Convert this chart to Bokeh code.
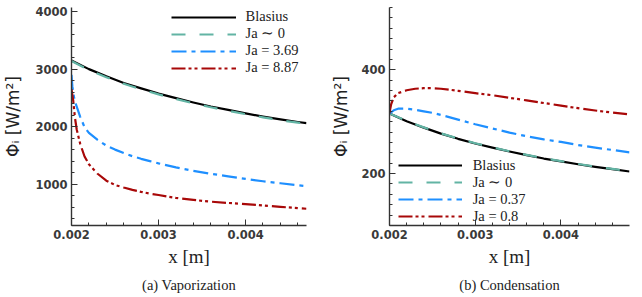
import math
from bokeh.plotting import figure
from bokeh.layouts import row
from bokeh.models import (Range1d, FixedTicker, PrintfTickFormatter, Legend, LegendItem,
                          Title)
from bokeh.embed import file_html
from bokeh.resources import INLINE

# ---------------- data ----------------
# (a) Vaporization
vap_x_blasius = [0.0020, 0.0022, 0.0024, 0.0026, 0.0028, 0.0030, 0.0032, 0.0034,
                 0.0036, 0.0038, 0.0040, 0.0042, 0.0044, 0.0046, 0.0047]
vap_blasius = [3150, 3000, 2875, 2760, 2665, 2575, 2495, 2420, 2350, 2290, 2230, 2175,
               2125, 2080, 2060]
vap_ja0 = [3140, 2985, 2860, 2745, 2650, 2560, 2480, 2405, 2337, 2275, 2217, 2162,
           2112, 2068, 2048]
vap_x_ja1 = [0.0020, 0.00201, 0.00203, 0.00205, 0.0021, 0.00215, 0.0022, 0.0023, 0.0024,
             0.0025, 0.0026, 0.0027, 0.0028, 0.0029, 0.0030, 0.0032, 0.0034, 0.0036,
             0.0038, 0.0040, 0.0042, 0.0044, 0.0046, 0.0047]
vap_ja1 = [2900, 2700, 2500, 2390, 2170, 1990, 1890, 1770, 1670, 1600, 1540, 1485, 1440,
           1400, 1360, 1290, 1230, 1180, 1135, 1090, 1050, 1015, 980, 965]
vap_x_ja2 = [0.0020, 0.00202, 0.00204, 0.00206, 0.0021, 0.00215, 0.0022, 0.0023, 0.0024,
             0.0025, 0.0026, 0.0027, 0.0028, 0.0029, 0.0030, 0.0032, 0.0034, 0.0036,
             0.0038, 0.0040, 0.0042, 0.0044, 0.0046, 0.0047]
vap_ja2 = [2650, 2450, 2150, 1950, 1700, 1480, 1345, 1180, 1060, 985, 940, 900, 865, 835,
           810, 760, 725, 695, 672, 652, 628, 604, 583, 571]
vap_labels = ["Blasius", "Ja \u223c 0", "Ja = 3.69", "Ja = 8.87"]

# (b) Condensation
cond_x = [0.0020, 0.0022, 0.0024, 0.0026, 0.0028, 0.0030, 0.0032, 0.0034, 0.0036,
          0.0038, 0.0040, 0.0042, 0.0044, 0.0046, 0.0048]
cond_blasius = [316, 301, 288.5, 277, 267, 258, 250, 242.5, 235.5, 229, 223.5, 218, 213,
                208.5, 204]
cond_ja0 = [316, 301.5, 289, 277.5, 267.5, 258.5, 250.5, 243, 236, 229.5, 224, 218.5,
            213.5, 209, 205]
cond_x_ja1 = [0.0020, 0.00205, 0.0021, 0.0022, 0.0023, 0.0024, 0.0025, 0.0026, 0.0028,
              0.0030, 0.0032, 0.0034, 0.0036, 0.0038, 0.0040, 0.0042, 0.0044, 0.0046,
              0.0048]
cond_ja1 = [316, 322, 325, 325, 323, 320, 317, 313, 304, 295, 287, 279, 272, 266, 261,
            255, 250, 245.5, 241]
cond_x_ja2 = [0.0020, 0.00201, 0.00202, 0.00205, 0.0021, 0.0022, 0.0023, 0.0024, 0.0025,
              0.0026, 0.0027, 0.0028, 0.0030, 0.0032, 0.0034, 0.0036, 0.0038, 0.0040,
              0.0042, 0.0044, 0.0046, 0.0048]
cond_ja2 = [316, 326, 334, 347, 355, 360.5, 363.5, 364.5, 364.5, 363.5, 361.5, 359.5, 355,
            351, 346, 341, 336, 331, 326, 321.5, 317.5, 314]
cond_labels = ["Blasius", "Ja \u223c 0", "Ja = 0.37", "Ja = 0.8"]

x_major = [0.002, 0.003, 0.004]
x_minor = [0.002 + 0.0002 * i for i in range(15)]
vap_y_major = [1000, 2000, 3000, 4000]
vap_y_minor = [200 * i for i in range(21)]
cond_y_major = [200, 400]
cond_y_minor = [20 * i for i in range(27)]
y_title = "\u03a6\u1d62 [W/m\u00b2]"
x_title = "x [m]"

# ---------------- styles ----------------
COL_BL = "#000000"
COL_J0 = "#62b4a4"
COL_J1 = "#1e8fff"
COL_J2 = "#a80808"
DASH_J0 = "14 14"
DASH_J1 = "15 5 4 5"
DASH_J2 = "14 3 3 3 3 4"
SERIF = "Liberation Serif"
TICKFONT = "DejaVu Sans"


def make_fig(xr, yr, ymaj, ymin, bl, br, bt, bb, ystand):
    p = figure(width=321, height=297, x_range=Range1d(*xr), y_range=Range1d(*yr),
               output_backend="svg", toolbar_location=None, title=None,
               min_border_left=bl, min_border_right=br, min_border_top=bt,
               min_border_bottom=bb)
    p.outline_line_color = None
    p.xgrid.visible = False
    p.ygrid.visible = False
    p.background_fill_color = "white"
    p.border_fill_color = "white"
    p.xaxis.ticker = FixedTicker(ticks=x_major, minor_ticks=x_minor)
    p.yaxis.ticker = FixedTicker(ticks=ymaj, minor_ticks=ymin)
    p.xaxis.formatter = PrintfTickFormatter(format="%.3f")
    p.yaxis.formatter = PrintfTickFormatter(format="%d")
    for ax in (p.xaxis, p.yaxis):
        ax.axis_line_color = "#333333"
        ax.axis_line_width = 1.4
        ax.major_tick_line_color = "#333333"
        ax.minor_tick_line_color = "#333333"
        ax.major_tick_in = 6
        ax.major_tick_out = 0
        ax.minor_tick_in = 3
        ax.minor_tick_out = 0
        ax.major_label_text_font = TICKFONT
        ax.major_label_text_font_style = "bold"
        ax.major_label_text_font_size = "11.5px"
        ax.major_label_text_color = "#3a3a3a"
    p.xaxis.major_label_standoff = 4
    p.yaxis.major_label_standoff = 4
    p.xaxis.axis_label = x_title
    p.xaxis.axis_label_text_font = SERIF
    p.xaxis.axis_label_text_font_style = "normal"
    p.xaxis.axis_label_text_font_size = "19px"
    p.xaxis.axis_label_text_color = "#222222"
    p.xaxis.axis_label_standoff = 4
    p.yaxis.axis_label = y_title
    p.yaxis.axis_label_text_font = "DejaVu Sans"
    p.yaxis.axis_label_text_font_style = "normal"
    p.yaxis.axis_label_text_font_size = "17px"
    p.yaxis.axis_label_text_color = "#222222"
    p.yaxis.axis_label_standoff = ystand
    return p


def add_lines(p, series, labels):
    styles = [(COL_BL, "solid", 2.2), (COL_J0, DASH_J0, 2.2),
              (COL_J1, DASH_J1, 2.2), (COL_J2, DASH_J2, 2.2)]
    items = []
    for (xs, ys), (c, d, w), lab in zip(series, styles, labels):
        r = p.line(xs, ys, line_color=c, line_dash=d, line_width=w, line_join="round")
        items.append(LegendItem(label=lab, renderers=[r]))
    return items


def add_legend(p, items, loc, gw, standoff):
    leg = Legend(items=items, location=loc, orientation="vertical",
                 glyph_width=gw, glyph_height=16, label_height=16,
                 label_standoff=standoff, spacing=0, padding=0, margin=0,
                 background_fill_alpha=0, border_line_alpha=0,
                 label_text_font=SERIF, label_text_font_size="14.5px",
                 label_text_color="#222222")
    p.add_layout(leg)


# ---------------- (a) Vaporization ----------------
p1 = make_fig((0.002, 0.0047), (280, 4072), vap_y_major, vap_y_minor, 63, 15, 4, 68, 9)
items1 = add_lines(p1, [(vap_x_blasius, vap_blasius), (vap_x_blasius, vap_ja0),
                        (vap_x_ja1, vap_ja1), (vap_x_ja2, vap_ja2)], vap_labels)
add_legend(p1, items1, (99.5, 149), 65, 10)
p1.add_layout(Title(text="(a) Vaporization", align="center", text_font=SERIF,
                    text_font_size="14.5px", text_font_style="normal",
                    text_color="#222222"), "below")

# ---------------- (b) Condensation ----------------
p2 = make_fig((0.002, 0.0048), (100, 520), cond_y_major, cond_y_minor, 68, 13, 7, 69, 7)
items2 = add_lines(p2, [(cond_x, cond_blasius), (cond_x, cond_ja0),
                        (cond_x_ja1, cond_ja1), (cond_x_ja2, cond_ja2)], cond_labels)
add_legend(p2, items2, (8.7, 0.5), 64, 11)
p2.add_layout(Title(text="(b) Condensation", align="center", text_font=SERIF,
                    text_font_size="14.5px", text_font_style="normal",
                    text_color="#222222"), "below")

layout = row(p1, p2)
open("out.html", "w").write(file_html(layout, INLINE))
